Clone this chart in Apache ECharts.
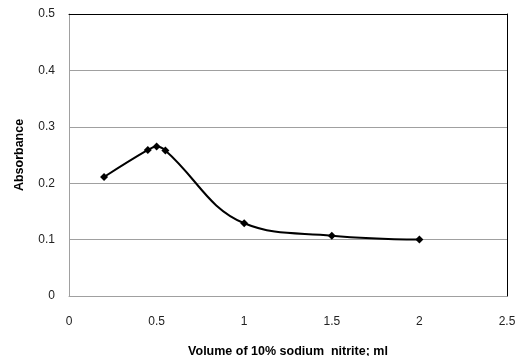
<!DOCTYPE html>
<html><head><meta charset="utf-8">
<script src="https://cdn.jsdelivr.net/npm/echarts@6/dist/echarts.min.js"></script>
<style>html,body{margin:0;padding:0;background:#fff}#c{width:518px;height:356px}</style>
</head><body><div id="c"></div>
<script>
const xValues = [0.2, 0.45, 0.5, 0.55, 1.0, 1.5, 2.0];
const absorbance = [0.211, 0.259, 0.265, 0.258, 0.129, 0.107, 0.100];
const xTitle = 'Volume of 10% sodium  nitrite; ml';
const yTitle = 'Absorbance';

const chart = echarts.init(document.getElementById('c'), null, {renderer: 'canvas'});
const font = '"Liberation Sans", Arial, sans-serif';
chart.setOption({
  animation: false,
  grid: {left: 69, right: 11, top: 14, bottom: 60, containLabel: false, outerBoundsMode: 'none'},
  xAxis: [{
    type: 'value', min: 0, max: 2.5, interval: 0.5,
    axisLine: {show: true, onZero: false, lineStyle: {color: '#a0a0a0', width: 1}},
    axisTick: {show: false},
    splitLine: {show: false},
    axisLabel: {color: '#222', fontFamily: font, fontSize: 12, margin: 20},
    name: xTitle, nameLocation: 'middle', nameGap: 49,
    nameTextStyle: {color: '#000', fontFamily: font, fontSize: 12.5, fontWeight: 'bold'}
  }, {
    type: 'value', min: 0, max: 2.5, position: 'top', z: 10,
    axisLine: {show: true, onZero: false, lineStyle: {color: '#000', width: 1}},
    axisTick: {show: false}, axisLabel: {show: false}, splitLine: {show: false}
  }],
  yAxis: [{
    type: 'value', min: 0, max: 0.5, interval: 0.1,
    axisLine: {show: true, onZero: false, lineStyle: {color: '#a0a0a0', width: 1}},
    axisTick: {show: false},
    splitLine: {show: true, lineStyle: {color: '#a0a0a0', width: 1}},
    axisLabel: {color: '#222', fontFamily: font, fontSize: 12, margin: 14},
    name: yTitle, nameLocation: 'middle', nameGap: 43,
    nameTextStyle: {color: '#000', fontFamily: font, fontSize: 12.5, fontWeight: 'bold'}
  }, {
    type: 'value', min: 0, max: 0.5, position: 'right', z: 10,
    axisLine: {show: true, onZero: false, lineStyle: {color: '#000', width: 1}},
    axisTick: {show: false}, axisLabel: {show: false}, splitLine: {show: false}
  }],
  series: [{
    type: 'line',
    data: xValues.map((x, i) => [x, absorbance[i]]),
    smooth: 0.4,
    symbol: 'diamond', symbolSize: 8,
    lineStyle: {color: '#000', width: 2},
    itemStyle: {color: '#000'}
  }]
});
</script></body></html>
